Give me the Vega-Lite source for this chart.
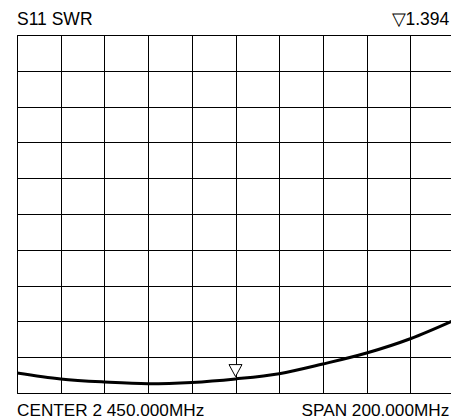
{
  "$schema": "https://vega.github.io/schema/vega-lite/v6.json",
  "autosize": "none",
  "width": 437,
  "height": 358,
  "padding": {"left": 17, "top": 35, "right": 0, "bottom": 27},
  "background": "white",
  "config": {
    "view": {"stroke": "#000", "strokeWidth": 1},
    "font": "Liberation Sans",
    "text": {"font": "Liberation Sans", "fontSize": 17.5, "color": "#000"},
    "axis": {"grid": true, "gridColor": "#000", "gridOpacity": 1, "gridWidth": 1, "labels": false, "ticks": false, "domain": false, "title": null}
  },
  "datasets": {
    "trace": [
      {"freq": 2350, "swr": 1.558},
      {"freq": 2370, "swr": 1.391},
      {"freq": 2390, "swr": 1.307},
      {"freq": 2410, "swr": 1.26},
      {"freq": 2430, "swr": 1.296},
      {"freq": 2450, "swr": 1.394},
      {"freq": 2470, "swr": 1.539},
      {"freq": 2490, "swr": 1.809},
      {"freq": 2510, "swr": 2.116},
      {"freq": 2530, "swr": 2.515},
      {"freq": 2550, "swr": 3.03}
    ],
    "marker": [{"freq": 2450, "swr": 1.394}]
  },
  "layer": [
    {
      "data": {"name": "trace"},
      "mark": {"type": "line", "color": "#000", "strokeWidth": 3, "interpolate": "monotone", "clip": true},
      "encoding": {
        "x": {
          "field": "freq", "type": "quantitative",
          "scale": {"domain": [2350, 2550], "nice": false, "zero": false},
          "axis": {"values": [2350, 2370, 2390, 2410, 2430, 2450, 2470, 2490, 2510, 2530, 2550]}
        },
        "y": {
          "field": "swr", "type": "quantitative",
          "scale": {"domain": [1, 11], "nice": false, "zero": false},
          "axis": {"values": [1, 2, 3, 4, 5, 6, 7, 8, 9, 10, 11]}
        }
      }
    },
    {
      "data": {"name": "marker"},
      "mark": {"type": "point", "shape": "M -1 -2.2 L 1 -2.2 L 0 -0.35 Z", "size": 169, "filled": false, "fill": "#fff", "fillOpacity": 1, "stroke": "#000", "strokeWidth": 1, "opacity": 1},
      "encoding": {
        "x": {"field": "freq", "type": "quantitative", "axis": {"values": [2350, 2370, 2390, 2410, 2430, 2450, 2470, 2490, 2510, 2530, 2550]}},
        "y": {"field": "swr", "type": "quantitative", "axis": {"values": [1, 2, 3, 4, 5, 6, 7, 8, 9, 10, 11]}}
      }
    },
    {
      "data": {"values": [{"label": "S11 SWR"}]},
      "mark": {"type": "text", "align": "left", "baseline": "alphabetic", "dy": -10},
      "encoding": {"x": {"datum": 2350, "type": "quantitative", "axis": {"values": [2350, 2370, 2390, 2410, 2430, 2450, 2470, 2490, 2510, 2530, 2550]}}, "y": {"datum": 11, "type": "quantitative", "axis": {"values": [1, 2, 3, 4, 5, 6, 7, 8, 9, 10, 11]}}, "text": {"field": "label"}}
    },
    {
      "data": {"values": [{"label": "▽1.394"}]},
      "mark": {"type": "text", "align": "right", "baseline": "alphabetic", "dy": -10, "dx": -4.7},
      "encoding": {"x": {"datum": 2550, "type": "quantitative", "axis": {"values": [2350, 2370, 2390, 2410, 2430, 2450, 2470, 2490, 2510, 2530, 2550]}}, "y": {"datum": 11, "type": "quantitative", "axis": {"values": [1, 2, 3, 4, 5, 6, 7, 8, 9, 10, 11]}}, "text": {"field": "label"}}
    },
    {
      "data": {"values": [{"label": "CENTER 2 450.000MHz"}]},
      "mark": {"type": "text", "align": "left", "baseline": "alphabetic", "dy": 23, "fontSize": 17.2},
      "encoding": {"x": {"datum": 2350, "type": "quantitative", "axis": {"values": [2350, 2370, 2390, 2410, 2430, 2450, 2470, 2490, 2510, 2530, 2550]}}, "y": {"datum": 1, "type": "quantitative", "axis": {"values": [1, 2, 3, 4, 5, 6, 7, 8, 9, 10, 11]}}, "text": {"field": "label"}}
    },
    {
      "data": {"values": [{"label": "SPAN 200.000MHz"}]},
      "mark": {"type": "text", "align": "right", "baseline": "alphabetic", "dy": 23, "dx": -4.7, "fontSize": 17.2},
      "encoding": {"x": {"datum": 2550, "type": "quantitative", "axis": {"values": [2350, 2370, 2390, 2410, 2430, 2450, 2470, 2490, 2510, 2530, 2550]}}, "y": {"datum": 1, "type": "quantitative", "axis": {"values": [1, 2, 3, 4, 5, 6, 7, 8, 9, 10, 11]}}, "text": {"field": "label"}}
    }
  ]
}
